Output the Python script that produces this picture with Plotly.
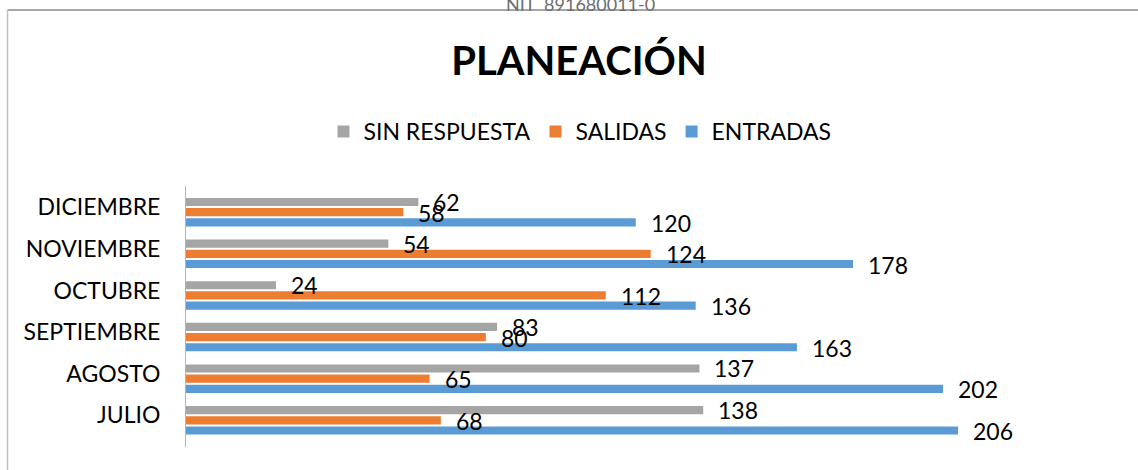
import plotly.graph_objects as go

categories = ["JULIO", "AGOSTO", "SEPTIEMBRE", "OCTUBRE", "NOVIEMBRE", "DICIEMBRE"]
entradas = [206, 202, 163, 136, 178, 120]
salidas = [68, 65, 80, 112, 124, 58]
sin_respuesta = [138, 137, 83, 24, 54, 62]

series_names = ["ENTRADAS", "SALIDAS", "SIN RESPUESTA"]
series_values = [entradas, salidas, sin_respuesta]
series_colors = ["#5b9bd5", "#ed7d31", "#a5a5a5"]
label_yshift = [-10.7, -0.5, 10.2]

FONT = "Lato"

fig = go.Figure()
for name, vals, col in zip(series_names, series_values, series_colors):
    fig.add_trace(go.Bar(
        y=categories, x=vals, name=name, orientation="h",
        marker=dict(color=col, line=dict(width=0)),
        hoverinfo="x+name",
    ))

annotations = []
for vals, ys in zip(series_values, label_yshift):
    for c, v in zip(categories, vals):
        annotations.append(dict(
            x=v, y=c, xref="x", yref="y", text=str(v), showarrow=False,
            xanchor="left", yanchor="middle", xshift=13, yshift=ys,
            font=dict(family=FONT, size=23, color="#000000"),
        ))

def py(pix):
    return (447 - pix) / 261.0

def px(pix):
    return (pix - 186) / 937.0

# Partially cut-off header text above the chart frame
annotations.append(dict(
    x=px(580), y=py(3.5), xref="paper", yref="paper", text="NIT  891680011-0",
    showarrow=False, xanchor="center", yanchor="middle",
    font=dict(family=FONT, size=18, color="#6e6e6e"),
))

shapes = [
    dict(type="line", xref="paper", yref="paper", x0=px(7.5), x1=px(1140),
         y0=py(10), y1=py(10), line=dict(color="#a6a6a6", width=2)),
    dict(type="line", xref="paper", yref="paper", x0=px(7.5), x1=px(7.5),
         y0=py(10), y1=py(472), line=dict(color="#bfbfbf", width=1.5)),
]

fig.update_layout(
    width=1138, height=470,
    margin=dict(l=186, r=15, t=186, b=23, autoexpand=False),
    paper_bgcolor="white", plot_bgcolor="white",
    barmode="group", bargap=0.264, bargroupgap=0.2,
    font=dict(family=FONT, color="#000000"),
    title=dict(text="<b>PLANEACIÓN</b>", x=579 / 1138, xanchor="center",
               y=1 - 61 / 470, yanchor="middle", xref="container", yref="container",
               font=dict(family=FONT, size=40, color="#000000")),
    legend=dict(orientation="h", traceorder="reversed",
                x=580 / 1138, xanchor="center", xref="container",
                y=1 - 131.5 / 470, yanchor="middle", yref="container",
                font=dict(family=FONT, size=23, color="#000000"),
                bgcolor="rgba(0,0,0,0)"),
    xaxis=dict(range=[0, 250], visible=False, showgrid=False, zeroline=False),
    yaxis=dict(type="category", categoryorder="array", categoryarray=categories,
               showline=True, linecolor="#b4b4b4", linewidth=1, showgrid=False,
               zeroline=False, ticks="", ticklabelstandoff=20, ticklabelshift=-5,
               tickfont=dict(family=FONT, size=23, color="#000000")),
    annotations=annotations, shapes=shapes,
    showlegend=True,
)

fig.write_html("out.html", config={"displayModeBar": False},
               post_script="document.body.style.margin='0px';document.body.style.overflow='hidden';")
